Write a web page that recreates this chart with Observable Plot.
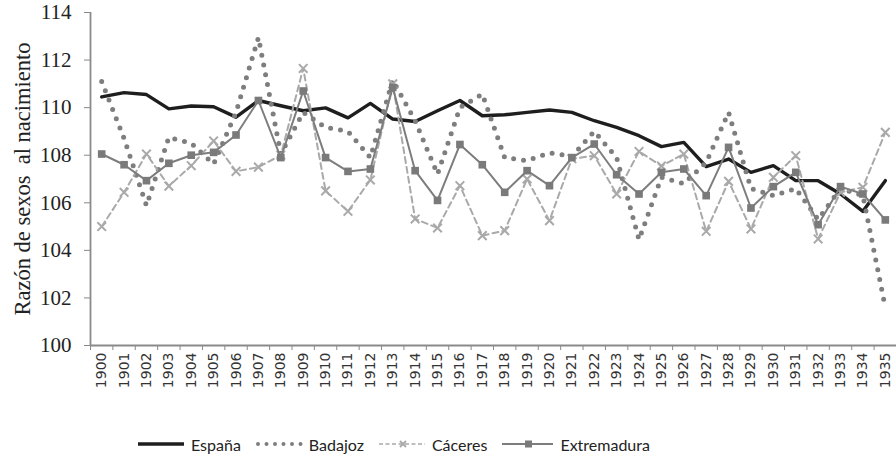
<!DOCTYPE html>
<html>
<head>
<meta charset="utf-8">
<script src="https://cdn.jsdelivr.net/npm/d3@7"></script>
<script src="https://cdn.jsdelivr.net/npm/@observablehq/plot@0.6"></script>
<style>
  html, body { margin: 0; padding: 0; background: #fff; }
  #chart svg { display: block; }
  #legend { display: flex; align-items: center; height: 48px; padding-left: 138px;
    font-family: Lato, "Open Sans", sans-serif; font-size: 16px; color: #222; }
  #legend .item { display: flex; align-items: center; margin-right: 15px; }
  #legend svg { margin-right: 5px; display: block; }
</style>
</head>
<body>
<div id="chart"></div>
<div id="legend"></div>
<script>
const years = [1900,1901,1902,1903,1904,1905,1906,1907,1908,1909,1910,1911,1912,1913,1914,1915,1916,1917,
  1918,1919,1920,1921,1922,1923,1924,1925,1926,1927,1928,1929,1930,1931,1932,1933,1934,1935];
const espana = [110.45,110.63,110.55,109.95,110.07,110.04,109.6,110.3,110.08,109.87,109.99,109.57,110.18,109.52,
  109.42,109.87,110.3,109.66,109.7,109.8,109.9,109.8,109.45,109.17,108.82,108.36,108.54,107.52,107.84,107.28,
  107.56,106.93,106.93,106.37,105.64,106.93];
const badajoz = [111.1,108.7,105.88,108.75,108.5,107.63,109.8,112.95,108.05,109.8,109.17,109.0,107.9,111.16,
  109.45,107.2,110.0,110.57,107.9,107.77,108.1,107.95,109.0,107.9,104.45,107.07,106.8,107.7,109.8,106.6,
  106.3,106.6,105.3,106.6,106.3,101.6];
const caceres = [105.0,106.44,108.05,106.7,107.56,108.6,107.32,107.5,108.0,111.65,106.5,105.64,106.96,111.0,
  105.32,104.94,106.72,104.62,104.83,107.0,105.25,107.85,107.98,106.37,108.16,107.55,108.05,104.8,106.9,104.9,
  107.07,107.98,104.48,106.44,106.65,108.96];
const extremadura = [108.05,107.6,106.93,107.66,108.0,108.12,108.85,110.3,107.9,110.7,107.9,107.32,107.42,110.85,
  107.35,106.1,108.45,107.6,106.44,107.35,106.72,107.9,108.47,107.18,106.37,107.28,107.42,106.3,108.33,105.78,
  106.68,107.28,105.08,106.68,106.37,105.28];
const yTicks = [100,102,104,106,108,110,112,114];
const seriesNames = ["España","Badajoz","Cáceres","Extremadura"];
const yLabel = "Razón de sexos  al nacimiento";

const toRows = (vals) => years.map((year, i) => ({year, value: vals[i]}));
const rE = toRows(espana), rB = toRows(badajoz), rC = toRows(caceres), rX = toRows(extremadura);

const xDomain = [years[0] - 0.5, years[years.length - 1] + 0.5];
const yDomain = [yTicks[0], yTicks[yTicks.length - 1]];
const bounds = years.map(y => y - 0.5).concat([years[years.length - 1] + 0.5]);

const styles = {
  espana: {stroke: "#1e1e1e", strokeWidth: 3.4},
  badajoz: {stroke: "#7e7e7e", strokeWidth: 5, strokeDasharray: "0 10", strokeLinecap: "round"},
  caceres: {stroke: "#a9a9a9", strokeWidth: 2, strokeDasharray: "6 4"},
  extremadura: {stroke: "#7d7d7d", strokeWidth: 2}
};

const chart = Plot.plot({
  width: 896, height: 420,
  marginLeft: 90, marginRight: 0, marginTop: 12, marginBottom: 75,
  x: {type: "linear", domain: xDomain},
  y: {domain: yDomain},
  marks: [
    Plot.axisY({ticks: yTicks, tickSize: 6, tickPadding: 13, tickFormat: d => String(d),
      fontSize: 21, fontFamily: "Liberation Serif, serif", fill: "#222", stroke: "#888", label: null}),
    Plot.text([yLabel], {frameAnchor: "left", textAnchor: "middle", lineAnchor: "middle", rotate: -90, dx: -68,
      fontSize: 22.5, fontFamily: "Liberation Serif, serif", fill: "#222"}),
    Plot.axisX({ticks: years, tickSize: 0, tickRotate: -90, tickPadding: 7, tickFormat: d => String(d),
      fontSize: 14, fontFamily: "DejaVu Sans, sans-serif", fill: "#333", label: null}),
    Plot.axisX({ticks: bounds, tickSize: 5, tickFormat: () => "", stroke: "#888", label: null}),
    Plot.ruleX([xDomain[0]], {stroke: "#8a8a8a", strokeWidth: 1.8}),
    Plot.ruleY([yDomain[0]], {stroke: "#8a8a8a", strokeWidth: 1.8}),
    Plot.line(rE, {x: "year", y: "value", ...styles.espana}),
    Plot.line(rB, {x: "year", y: "value", ...styles.badajoz}),
    Plot.line(rC, {x: "year", y: "value", ...styles.caceres}),
    Plot.dot(rC, {x: "year", y: "value", symbol: "times", r: 4, stroke: "#a9a9a9", strokeWidth: 2}),
    Plot.line(rX, {x: "year", y: "value", ...styles.extremadura}),
    Plot.dot(rX, {x: "year", y: "value", symbol: "square", r: 4.3, fill: "#7a7a7a", stroke: "none"})
  ]
});
document.getElementById("chart").appendChild(chart);

// legend
const legend = d3.select("#legend");
const keys = ["espana","badajoz","caceres","extremadura"];
keys.forEach((k, i) => {
  const item = legend.append("div").attr("class", "item");
  const w = k === "extremadura" ? 53 : 48;
  const svg = item.append("svg").attr("width", w).attr("height", 14);
  const s = styles[k];
  const ln = svg.append("line").attr("x1", k === "badajoz" ? 2 : 0).attr("x2", w - 2).attr("y1", 7).attr("y2", 7)
    .attr("stroke", s.stroke).attr("stroke-width", s.strokeWidth);
  if (k === "badajoz") ln.attr("stroke-dasharray", "0 8.5").attr("stroke-linecap", "round").attr("stroke-width", 4);
  if (k === "caceres") {
    ln.attr("stroke-dasharray", "4 2.5").attr("stroke-width", 1.6);
    svg.append("path").attr("d", `M${w/2-3},4L${w/2+3},10M${w/2+3},4L${w/2-3},10`)
      .attr("stroke", "#a9a9a9").attr("stroke-width", 1.8);
  }
  if (k === "extremadura") {
    ln.attr("stroke-width", 1.8);
    svg.append("rect").attr("x", w/2 - 3.5).attr("y", 3.5).attr("width", 7).attr("height", 7).attr("fill", "#7a7a7a");
  }
  item.append("span").text(seriesNames[i]);
});
</script>
</body>
</html>
